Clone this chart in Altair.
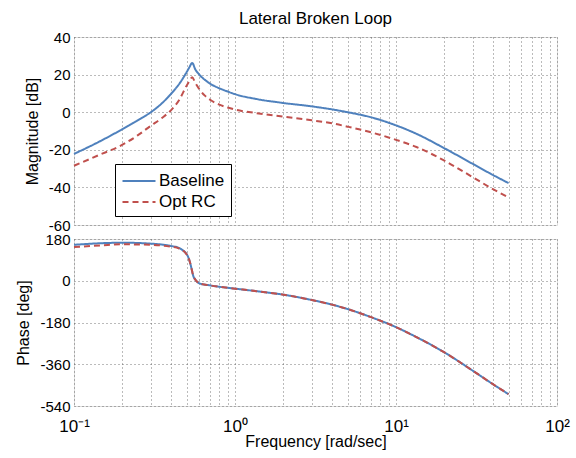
import altair as alt
import pandas as pd

# Magnitude data (frequency in rad/sec, magnitude in dB)
mag_freq = [0.1, 0.141, 0.2, 0.247, 0.3, 0.35, 0.4, 0.45, 0.5, 0.52, 0.543, 0.565, 0.6,
            0.65, 0.7, 0.8, 0.9, 1.0, 1.36, 2, 3, 4, 5, 7, 10, 13.4, 20, 30, 40, 50]
mag_baseline = [-22.2, -16, -9, -4.5, 0, 4.6, 9.7, 15, 21.2, 23.8, 26.2, 23.0, 20.0,
                17.2, 15.2, 12.7, 11, 9.6, 7.0, 4.9, 3.1, 1.5, 0, -2.7, -7, -11.5, -19.2, -27.5, -33.4, -37.7]
mag_optrc = [-28.5, -23.0, -17.3, -12.5, -7.2, -3.2, 1.0, 6.5, 14, 16.5, 18.6, 15.8, 12.3,
             8.8, 6.6, 4.0, 2.5, 1.4, -0.5, -2.4, -4.3, -5.9, -7.7, -10.7, -14.7, -18.5, -25.8, -34.6, -40.9, -45.3]

# Phase data (deg)
ph_freq = [0.1, 0.15, 0.2, 0.3, 0.4, 0.45, 0.47, 0.49, 0.51, 0.525, 0.54, 0.55, 0.57,
           0.6, 0.7, 0.8, 1.0, 1.36, 2, 3, 4, 5, 7, 10, 13.4, 20, 30, 40, 50]
ph_baseline = [155, 162, 164, 160, 150, 141, 133, 123, 105, 80, 45, 22, 3,
               -11, -20, -26, -34, -45, -60, -83, -103, -122, -157, -200, -243, -309, -388, -446, -489]
ph_optrc = [145, 153, 157, 155, 147, 139, 132, 122, 104, 80, 45, 22, 3,
            -11, -20, -26, -34, -45, -60, -83, -103, -122, -157, -200, -243, -309, -388, -446, -489]

series_names = ["Baseline", "Opt RC"]
colors = ["#4F81BD", "#C0504D"]

x_grid = [0.1, 0.2, 0.3, 0.4, 0.5, 0.6, 0.7, 0.8, 0.9,
          1, 2, 3, 4, 5, 6, 7, 8, 9,
          10, 20, 30, 40, 50, 60, 70, 80, 90, 100]

mag_df = pd.concat([
    pd.DataFrame({"f": mag_freq, "v": mag_baseline, "s": series_names[0], "o": 0}),
    pd.DataFrame({"f": mag_freq, "v": mag_optrc, "s": series_names[1], "o": 1}),
])
ph_df = pd.concat([
    pd.DataFrame({"f": ph_freq, "v": ph_baseline, "s": series_names[0], "o": 0}),
    pd.DataFrame({"f": ph_freq, "v": ph_optrc, "s": series_names[1], "o": 1}),
])

FONT = "Liberation Sans"
grid_kw = dict(grid=True, gridDash=[1, 3], gridColor="#555", gridOpacity=0.8,
               domain=False, ticks=False)
ytext = dict(labelFontSize=15, titleFontSize=16, titleFontWeight="normal",
             labelColor="black", titleColor="black", labelFont=FONT,
             titleFont=FONT, titlePadding=8, labelPadding=4,
             labelExpr="'' + datum.value")

xscale = alt.Scale(type="log", domain=[0.1, 100], nice=False)
color_enc = alt.Color("s:N", scale=alt.Scale(domain=series_names, range=colors),
                      legend=alt.Legend(title=None, orient="none", legendX=41, legendY=127,
                                        strokeColor="black", fillColor="white",
                                        padding=6, symbolType="M-1.65,0H1.65", symbolSize=400,
                                        symbolStrokeWidth=2, symbolOffset=7,
                                        labelFontSize=17, labelFont=FONT,
                                        rowPadding=2, labelOffset=9))
dash_enc = alt.StrokeDash("s:N", scale=alt.Scale(domain=series_names, range=[[1, 0], [6, 4]]),
                          legend=None)

top = alt.Chart(mag_df).mark_line(strokeWidth=2, interpolate="monotone").encode(
    x=alt.X("f:Q", scale=xscale,
            axis=alt.Axis(values=x_grid, labels=False, title=None, minExtent=0,
                          maxExtent=0, **grid_kw)),
    y=alt.Y("v:Q", scale=alt.Scale(domain=[-60, 40], nice=False),
            axis=alt.Axis(values=[-60, -40, -20, 0, 20, 40], title="Magnitude [dB]",
                          **ytext, **grid_kw)),
    color=color_enc,
    strokeDash=dash_enc,
    order="o:Q",
).properties(width=483, height=188,
             title=alt.Title("Lateral Broken Loop", fontSize=17, fontWeight="normal",
                             font=FONT, color="black", offset=2))

label_expr = ("datum.value == 0.1 ? '10⁻¹' : datum.value == 1 ? '10⁰' : "
              "datum.value == 10 ? '10¹' : datum.value == 100 ? '10²' : ''")

bottom = alt.Chart(ph_df).mark_line(strokeWidth=2, interpolate="monotone").encode(
    x=alt.X("f:Q", scale=xscale,
            axis=alt.Axis(values=x_grid, labelExpr=label_expr, title="Frequency [rad/sec]",
                          labelFontSize=17, titleFontSize=16, titleFontWeight="normal",
                          labelColor="black", titleColor="black", labelFont=FONT,
                          titleFont=FONT, labelPadding=12, titlePadding=-1,
                          labelFlush=False, labelOverlap=False, **grid_kw)),
    y=alt.Y("v:Q", scale=alt.Scale(domain=[-540, 180], nice=False),
            axis=alt.Axis(values=[-540, -360, -180, 0, 180], title="Phase [deg]",
                          **ytext, **grid_kw)),
    color=alt.Color("s:N", scale=alt.Scale(domain=series_names, range=colors), legend=None),
    strokeDash=dash_enc,
    order="o:Q",
).properties(width=483, height=167)

chart = alt.vconcat(top, bottom, spacing=14, bounds="flush").resolve_scale(
    color="independent", strokeDash="independent"
).properties(padding={"left": 15, "top": 9, "right": 5, "bottom": 5}
).configure_view(stroke="black", strokeWidth=1).configure(background="white")

chart.save("out.html", embed_options={"renderer": "svg", "actions": False})
